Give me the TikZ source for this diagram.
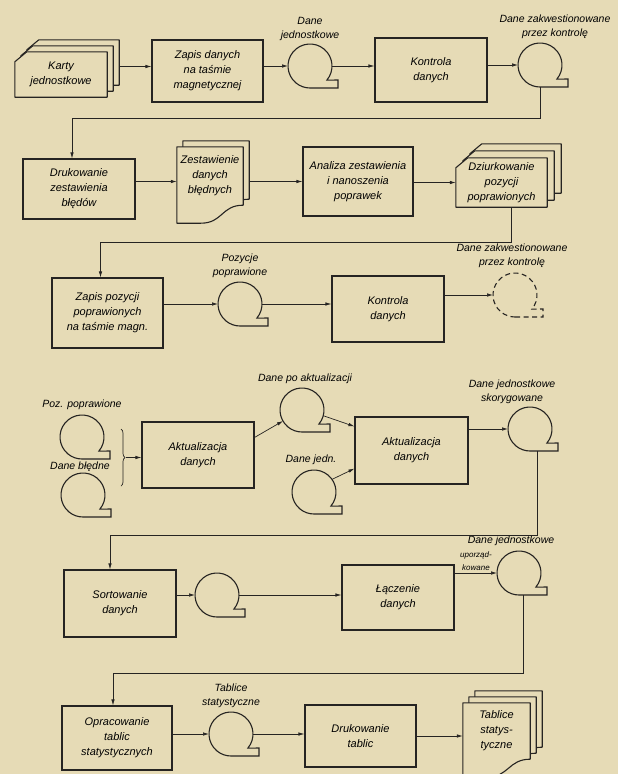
\documentclass[tikz,border=0pt]{standalone}
\usepackage{fontspec}
\setmainfont{Liberation Sans}
\usetikzlibrary{arrows.meta, calc, positioning, decorations.pathreplacing}
\definecolor{paper}{RGB}{230,219,182}
\definecolor{ink}{RGB}{38,36,34}
\pgfdeclarelayer{bg}
\pgfdeclarelayer{sheets}
\pgfsetlayers{bg,sheets,main}
\tikzset{
  proc/.style={draw=ink, line width=1.1pt, minimum width=112pt, minimum height=65pt,
    align=center, font=\fontsize{11}{15}\selectfont\itshape},
  sheet/.style={inner sep=0pt, align=center, font=\fontsize{11}{15}\selectfont\itshape},
  reel/.style={circle, minimum size=44pt, inner sep=0pt, outer sep=0pt},
  lbl/.style={align=center, inner sep=0pt, font=\fontsize{10.5}{14}\selectfont\itshape},
  outl/.style={draw=ink, line width=1.1pt, fill=paper, line join=round},
  flow/.style={draw=ink, line width=0.7pt, -{Latex[length=6pt,width=3.5pt]}},
  link/.style={draw=ink, line width=0.7pt},
}
% stacked punched cards behind a node
\newcommand{\cardstack}[2]{\foreach \d in {#2}
  \draw[outl] ([shift={(\d,\d)}]#1.south west) -- ([shift={(\d,\d)}]#1.south east)
    -- ([shift={(\d,\d)}]#1.north east) -- ([shift={(\d+12,\d)}]#1.north west)
    -- ([shift={(\d,\d-10)}]#1.north west) -- cycle;}
% stacked printed documents behind a node
\newcommand{\docstack}[2]{\foreach \d in {#2}
  \draw[outl] ([shift={(\d,\d)}]#1.north west) -- ([shift={(\d,\d)}]#1.north east)
    -- ([shift={(\d,\d)}]#1.south east) .. controls +(-22,0) and +(22,0) .. ([shift={(\d+24,\d-18)}]#1.south west)
    -- ([shift={(\d,\d-18)}]#1.south west) -- cycle;}

\begin{document}
\begin{tikzpicture}[x=1pt, y=1pt]
  \useasboundingbox (0,0) rectangle (618,-774);
  \begin{pgfonlayer}{bg}
    \fill[paper] (0,0) rectangle (618,-774);
  \end{pgfonlayer}

  % row 1
  \node[sheet, minimum width=92pt, minimum height=45pt] (karty) at (61,-74.5) {Karty\\jednostkowe};
  \node[proc, minimum width=111pt, minimum height=62pt] (zapis1) at (207.5,-71) {Zapis danych\\na taśmie\\magnetycznej};
  \node[reel] (t1) at (310,-66) {};
  \node[lbl, above=3pt of t1] (t1l) {Dane\\jednostkowe};
  \node[proc, minimum height=64pt] (kontrola1) at (431,-70) {Kontrola\\danych};
  \node[reel] (t2) at (540,-65) {};
  \node[lbl, above=4pt of t2, xshift=15pt] (t2l) {Dane zakwestionowane\\przez kontrolę};

  % row 2
  \node[proc, minimum height=60pt] (druk1) at (79,-189) {Drukowanie\\zestawienia\\błędów};
  \node[sheet, minimum width=66pt, minimum height=58pt] (doc1) at (210,-176) {Zestawienie\\danych\\błędnych};
  \node[proc, minimum width=110pt, minimum height=69pt] (analiza) at (358,-181.5) {Analiza zestawienia\\i nanoszenia\\poprawek};
  \node[sheet, minimum width=91pt, minimum height=49pt] (dziurk) at (501.5,-182.5) {Dziurkowanie\\pozycji\\poprawionych};

  % row 3
  \node[proc, minimum width=111pt, minimum height=70pt] (zapis2) at (107.5,-313) {Zapis pozycji\\poprawionych\\na taśmie magn.};
  \node[reel] (t3) at (240,-304) {};
  \node[lbl, above=4pt of t3] (t3l) {Pozycje\\poprawione};
  \node[proc, minimum height=66pt] (kontrola2) at (388,-309) {Kontrola\\danych};
  \node[reel] (t4) at (515,-295) {};
  \node[lbl, above=5pt of t4, xshift=-3pt] (t4l) {Dane zakwestionowane\\przez kontrolę};

  % row 4
  \node[reel] (t5) at (82,-437) {};
  \node[lbl, above=5pt of t5] (t5l) {Poz. poprawione};
  \node[reel] (t6) at (83,-495) {};
  \node[lbl, above=1pt of t6, xshift=-3pt] (t6l) {Dane błędne};
  \node[proc, minimum height=66pt] (aktual1) at (198,-455) {Aktualizacja\\danych};
  \node[reel] (t7) at (302,-410) {};
  \node[lbl, above=4pt of t7, xshift=3pt] (t7l) {Dane po aktualizacji};
  \node[reel] (t8) at (314,-492) {};
  \node[lbl, above=5pt of t8, xshift=-3pt] (t8l) {Dane jedn.};
  \node[proc, minimum width=113pt, minimum height=67pt] (aktual2) at (411.5,-450.5) {Aktualizacja\\danych};
  \node[reel] (t9) at (530,-429) {};
  \node[lbl, above=3pt of t9, xshift=-18pt] (t9l) {Dane jednostkowe\\skorygowane};

  % row 5
  \node[proc, minimum height=67pt] (sort) at (120,-603.5) {Sortowanie\\danych};
  \node[reel] (t10) at (217,-595) {};
  \node[proc] (lacz) at (398,-597.5) {Łączenie\\danych};
  \node[reel] (t11) at (519,-573) {};
  \node[lbl, above=5pt of t11, xshift=-8pt] (t11l) {Dane jednostkowe};
  \node[lbl, font=\fontsize{8}{13}\selectfont\itshape] (t11u) at (476,-561) {uporząd-\\kowane};

  % row 6
  \node[proc, minimum width=110pt, minimum height=64pt] (oprac) at (117,-738) {Opracowanie\\tablic\\statystycznych};
  \node[reel] (t12) at (231,-734) {};
  \node[lbl, above=4pt of t12] (t12l) {Tablice\\statystyczne};
  \node[proc, minimum width=111pt, minimum height=62pt] (druk2) at (360.5,-736) {Drukowanie\\tablic};
  \node[sheet, minimum width=67pt, minimum height=56pt] (doc2) at (496.5,-731) {Tablice\\statys-\\tyczne};

  % cards and documents
  \begin{pgfonlayer}{sheets}
    \cardstack{karty}{12,6,0}
    \cardstack{dziurk}{14,7,0}
    \docstack{doc1}{6,0}
    \docstack{doc2}{12,6,0}
  \end{pgfonlayer}

  % tapes
  \foreach \t in {t1,t2,t3,t5,t6,t7,t8,t9,t10,t11,t12}
    \draw[draw=ink, line width=1.1pt] (\t.south) -- ++(28,0) -- ++(0,8) -- (\t.-40)
      arc[start angle=-40, end angle=270, radius=22];
  \draw[draw=ink, line width=1.1pt, dash pattern=on 5pt off 3.5pt] (t4.south) -- ++(28,0) -- ++(0,8) -- (t4.-40)
    arc[start angle=-40, end angle=270, radius=22];

  % connectors
  \draw[flow] ([shift={(12,8)}]karty.east) coordinate (k1) -- (k1 -| zapis1.west);
  \draw[flow] (zapis1.east |- t1) -- (t1.west);
  \draw[flow] (t1.east) -- (t1.east -| kontrola1.west);
  \draw[flow] (kontrola1.east |- t2) -- (t2.west);
  \draw[flow] (t2.south) -- ++(0,-31) -| ([xshift=-7]druk1.north);
  \draw[flow] (druk1.east |- analiza) -- (doc1.west |- analiza);
  \draw[flow] ([xshift=6]doc1.east |- analiza) -- (analiza.west);
  \draw[flow] (analiza.east |- dziurk) -- (dziurk.west);
  \draw[flow] ([xshift=10]dziurk.south) -- ++(0,-35) -| ([xshift=-7]zapis2.north);
  \draw[flow] (zapis2.east |- t3) -- (t3.west);
  \draw[flow] (t3.east) -- (t3.east -| kontrola2.west);
  \draw[flow] (kontrola2.east |- t4) -- (t4.west);
  \draw[link, decorate, decoration={brace, amplitude=4pt}] (121,-429) -- (121,-486);
  \coordinate (br) at (126,-457.5);
  \draw[flow] (br) -- (br -| aktual1.west);
  \draw[flow] ([yshift=-16]aktual1.north east) -- (t7.210);
  \draw[flow] (t7.-15) -- ([yshift=-10]aktual2.north west);
  \draw[flow] (t8.35) -- ([yshift=16]aktual2.south west);
  \draw[flow] (aktual2.east |- t9) -- (t9.west);
  \draw[flow] ([xshift=7]t9.south) -- ++(0,-84) -| ([xshift=-10]sort.north);
  \draw[flow] (sort.east |- t10) -- (t10.west);
  \draw[flow] (t10.east) -- (t10.east -| lacz.west);
  \draw[flow] (lacz.east |- t11) -- (t11.west);
  \draw[flow] ([xshift=4]t11.south) -- ++(0,-78) -| ([xshift=-4]oprac.north);
  \draw[flow] (oprac.east |- t12) -- (t12.west);
  \draw[flow] (t12.east) -- (t12.east -| druk2.west);
  \draw[flow] (druk2.east) -- (druk2.east -| doc2.west);
\end{tikzpicture}
\end{document}
